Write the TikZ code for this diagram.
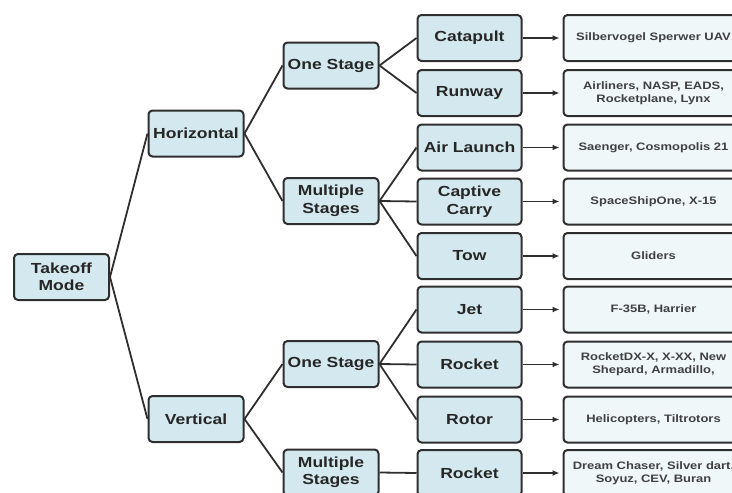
\documentclass[tikz,border=0pt]{standalone}
\usepackage{fontspec}
\setsansfont{Liberation Sans}[FakeStretch=1.2]
\usetikzlibrary{positioning, arrows.meta}

\definecolor{boxblue}{HTML}{D4E9EF}
\definecolor{paleblue}{HTML}{EFF7F9}
\definecolor{edgegray}{HTML}{2E2E2E}

\begin{document}
\begin{tikzpicture}[
    x=1pt, y=-1pt,
    >=Latex,
    font=\sffamily\bfseries,
    mode/.style={
        draw=edgegray, line width=2pt, rounded corners=4pt, fill=boxblue,
        minimum width=95pt, minimum height=46pt, align=center, text=black!85,
        font=\sffamily\bfseries\fontsize{14.6}{17.5}\selectfont
    },
    method/.style={mode, minimum width=104pt},
    craft/.style={
        mode, fill=paleblue, minimum width=180pt, text=black!75,
        font=\sffamily\bfseries\fontsize{10.8}{13}\selectfont
    },
    line/.style={draw=edgegray, line width=1.8pt},
    arrow/.style={draw=edgegray, line width=1.8pt, shorten >=3pt, -{Latex[length=7pt, width=6pt]}}
]

\useasboundingbox (0,0) rectangle (732,493);

% ==========================================
% ROOT AND FIRST SPLIT
% ==========================================

\node[mode] (Takeoff) at (61.5, 277) {Takeoff \\ Mode};

\node[mode] (Horizontal) at (196, 133.5) {Horizontal};
\node[mode] (Vertical) at (196, 419) {Vertical};

\draw[line] (Takeoff.east) -- (Horizontal.west);
\draw[line] (Takeoff.east) -- (Vertical.west);

% ==========================================
% STAGES
% ==========================================

\node[mode] (HOneStage) at (331, 65.5) {One Stage};
\node[mode] (HMultiStage) at (331, 201) {Multiple \\ Stages};
\node[mode] (VOneStage) at (331, 364) {One Stage};
\node[mode] (VMultiStage) at (331, 472.5) {Multiple \\ Stages};

\draw[line] (Horizontal.east) -- (HOneStage.west);
\draw[line] (Horizontal.east) -- (HMultiStage.west);
\draw[line] (Vertical.east) -- (VOneStage.west);
\draw[line] (Vertical.east) -- (VMultiStage.west);

% ==========================================
% LAUNCH METHODS
% ==========================================

\node[method] (Catapult) at (469.5, 38) {Catapult};
\node[method] (Runway) at (469.5, 93) {Runway};
\node[method] (AirLaunch) at (469.5, 147.5) {Air Launch};
\node[method] (Captive) at (469.5, 201.5) {Captive \\ Carry};
\node[method] (Tow) at (469.5, 256) {Tow};
\node[method] (Jet) at (469.5, 309.5) {Jet};
\node[method] (VRocket) at (469.5, 364.5) {Rocket};
\node[method] (Rotor) at (469.5, 419.5) {Rotor};
\node[method] (MRocket) at (469.5, 473) {Rocket};

\draw[line] (HOneStage.east) -- (Catapult.west);
\draw[line] (HOneStage.east) -- (Runway.west);
\draw[line] (HMultiStage.east) -- (AirLaunch.west);
\draw[line] (HMultiStage.east) -- (Captive.west);
\draw[line] (HMultiStage.east) -- (Tow.west);
\draw[line] (VOneStage.east) -- (Jet.west);
\draw[line] (VOneStage.east) -- (VRocket.west);
\draw[line] (VOneStage.east) -- (Rotor.west);
\draw[line] (VMultiStage.east) -- (MRocket.west);

% ==========================================
% EXAMPLE VEHICLES
% ==========================================

\node[craft] (CatapultEx) [right=40pt of Catapult] {Silbervogel Sperwer UAV};
\node[craft] (RunwayEx) [right=40pt of Runway] {Airliners, NASP, EADS, \\ Rocketplane, Lynx};
\node[craft] (AirLaunchEx) [right=40pt of AirLaunch] {Saenger, Cosmopolis 21};
\node[craft] (CaptiveEx) [right=40pt of Captive] {SpaceShipOne, X-15};
\node[craft] (TowEx) [right=40pt of Tow] {Gliders};
\node[craft] (JetEx) [right=40pt of Jet] {F-35B, Harrier};
\node[craft] (VRocketEx) [right=40pt of VRocket] {RocketDX-X, X-XX, New \\ Shepard, Armadillo,};
\node[craft] (RotorEx) [right=40pt of Rotor] {Helicopters, Tiltrotors};
\node[craft] (MRocketEx) [right=40pt of MRocket] {Dream Chaser, Silver dart, \\ Soyuz, CEV, Buran};

\draw[arrow] (Catapult) -- (CatapultEx);
\draw[arrow] (Runway) -- (RunwayEx);
\draw[arrow] (AirLaunch) -- (AirLaunchEx);
\draw[arrow] (Captive) -- (CaptiveEx);
\draw[arrow] (Tow) -- (TowEx);
\draw[arrow] (Jet) -- (JetEx);
\draw[arrow] (VRocket) -- (VRocketEx);
\draw[arrow] (Rotor) -- (RotorEx);
\draw[arrow] (MRocket) -- (MRocketEx);

\end{tikzpicture}
\end{document}
